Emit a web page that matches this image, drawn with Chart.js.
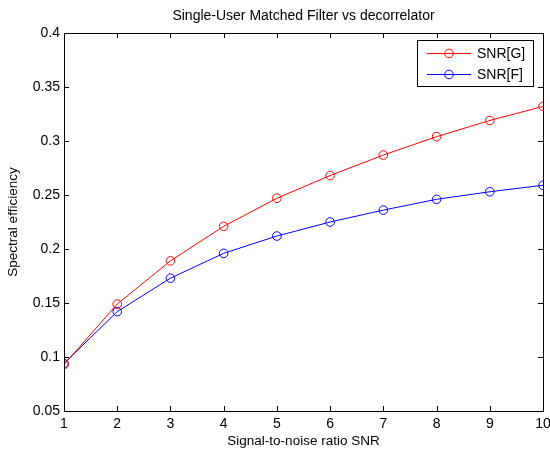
<!DOCTYPE html>
<html>
<head>
<meta charset="utf-8">
<script src="https://cdn.jsdelivr.net/npm/chart.js@4/dist/chart.umd.min.js"></script>
<style>
html,body{margin:0;padding:0;background:#fff;}
#wrap{width:550px;height:452px;position:relative;}
</style>
</head>
<body>
<div id="wrap"><canvas id="c" width="550" height="452"></canvas></div>
<script>
const snr = [1, 2, 3, 4, 5, 6, 7, 8, 9, 10];
const snrG = [0.093, 0.149, 0.189, 0.221, 0.247, 0.268, 0.287, 0.304, 0.319, 0.332];
const snrF = [0.094, 0.142, 0.173, 0.196, 0.212, 0.225, 0.236, 0.246, 0.253, 0.259];
const seriesNames = ['SNR[G]', 'SNR[F]'];
const yTicks = [0.05, 0.1, 0.15, 0.2, 0.25, 0.3, 0.35, 0.4];
const chartTitle = 'Single-User Matched Filter vs decorrelator';

const FONT = 'Liberation Sans, Arial, sans-serif';

const toPts = (ys) => snr.map((x, i) => ({x: x, y: ys[i]}));

const matlabAxes = {
  id: 'matlabAxes',
  afterDraw(chart) {
    const ctx = chart.ctx;
    const a = chart.chartArea;
    const xs = chart.scales.x, ys = chart.scales.y;
    ctx.save();
    // title centred over the axes
    ctx.fillStyle = '#000';
    ctx.font = '14px ' + FONT;
    ctx.textAlign = 'center';
    ctx.textBaseline = 'middle';
    ctx.fillText(chartTitle, (a.left + a.right) / 2, 16);

    ctx.strokeStyle = '#000';
    ctx.lineWidth = 1;
    // box
    ctx.strokeRect(Math.round(a.left) + 0.5, Math.round(a.top) + 0.5,
                   Math.round(a.right - a.left), Math.round(a.bottom - a.top));
    const L = 5;
    ctx.beginPath();
    xs.ticks.forEach(t => {
      const px = Math.round(xs.getPixelForValue(t.value)) + 0.5;
      ctx.moveTo(px, a.bottom); ctx.lineTo(px, a.bottom - L);
      ctx.moveTo(px, a.top); ctx.lineTo(px, a.top + L);
    });
    ys.ticks.forEach(t => {
      const py = Math.round(ys.getPixelForValue(t.value)) + 0.5;
      ctx.moveTo(a.left, py); ctx.lineTo(a.left + L, py);
      ctx.moveTo(a.right, py); ctx.lineTo(a.right - L, py);
    });
    ctx.stroke();

    // legend
    const bx = 417.5, by = 40.5, bw = 116, bh = 46;
    ctx.fillStyle = '#fff';
    ctx.fillRect(bx, by, bw, bh);
    ctx.strokeRect(bx, by, bw, bh);
    ctx.font = '14px ' + FONT;
    ctx.textBaseline = 'middle';
    ctx.textAlign = 'left';
    chart.data.datasets.forEach((ds, i) => {
      const yy = 53.5 + i * 21;
      ctx.strokeStyle = ds.borderColor;
      ctx.beginPath();
      ctx.moveTo(427, yy); ctx.lineTo(471, yy);
      ctx.stroke();
      ctx.beginPath();
      ctx.arc(449, yy, 4.3, 0, Math.PI * 2);
      ctx.stroke();
      ctx.fillStyle = '#000';
      ctx.fillText(ds.label, 477, yy + 1);
    });
    ctx.restore();
  }
};

new Chart(document.getElementById('c'), {
  type: 'line',
  data: {
    datasets: [
      {label: seriesNames[0], data: toPts(snrG), borderColor: '#ff0000', borderWidth: 1,
       pointRadius: 4.3, pointBorderWidth: 1, pointBorderColor: '#ff0000',
       pointBackgroundColor: 'rgba(0,0,0,0)', tension: 0, fill: false},
      {label: seriesNames[1], data: toPts(snrF), borderColor: '#0000ff', borderWidth: 1,
       pointRadius: 4.3, pointBorderWidth: 1, pointBorderColor: '#0000ff',
       pointBackgroundColor: 'rgba(0,0,0,0)', tension: 0, fill: false}
    ]
  },
  options: {
    responsive: false,
    animation: false,
    devicePixelRatio: 1,
    layout: {padding: {top: 33, right: 7, left: 0, bottom: 0}},
    plugins: {
      legend: {display: false},
      tooltip: {enabled: false},
      title: {display: false}
    },
    scales: {
      x: {
        type: 'linear', min: 1, max: 10,
        afterFit(s) { s.height = 41; s.paddingLeft = 0; s.paddingRight = 0; },
        grid: {display: false, drawTicks: false},
        border: {display: false},
        ticks: {stepSize: 1, color: '#000', padding: 5,
                font: {family: FONT, size: 14}},
        title: {display: true, text: 'Signal-to-noise ratio SNR', color: '#000',
                font: {family: FONT, size: 13.5}, padding: {top: 0, bottom: 3}}
      },
      y: {
        type: 'linear', min: 0.05, max: 0.4,
        afterFit(s) { s.width = 64; s.paddingTop = 0; s.paddingBottom = 0; },
        afterBuildTicks(s) { s.ticks = yTicks.map(v => ({value: v})); },
        grid: {display: false, drawTicks: false},
        border: {display: false},
        ticks: {color: '#000', padding: 4,
                font: {family: FONT, size: 14},
                callback: (v) => String(parseFloat(Number(v).toFixed(2)))},
        title: {display: true, text: 'Spectral efficiency', color: '#000',
                font: {family: FONT, size: 13.5}, padding: {top: 5, bottom: 0}}
      }
    }
  },
  plugins: [matlabAxes]
});
</script>
</body>
</html>
